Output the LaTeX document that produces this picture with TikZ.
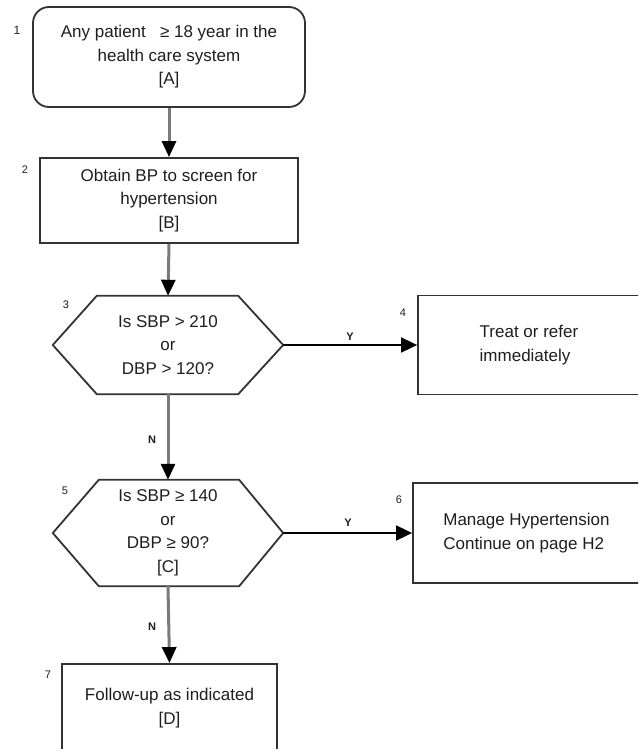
\documentclass[tikz,border=0pt]{standalone}
\usepackage{fontspec}
\setmainfont{Liberation Sans}
\usetikzlibrary{arrows.meta}
\definecolor{txt}{HTML}{1E1E1E}
\definecolor{edge}{HTML}{333333}
\definecolor{vline}{HTML}{7A7A7A}
\begin{document}
\begin{tikzpicture}[x=1pt,y=-1pt,
  box/.style={draw=edge,line width=1.8pt,inner sep=0pt,align=center,text=txt,
    font=\fontsize{17}{23.5}\selectfont},
  hexbox/.style={inner sep=0pt,align=center,text=txt,
    font=\fontsize{17}{23.5}\selectfont},
  hexline/.style={draw=edge,line width=1.8pt,line join=miter},
  num/.style={inner sep=0pt,text=txt,font=\fontsize{11}{13}\selectfont},
  yn/.style={inner sep=0pt,text=txt,font=\bfseries\fontsize{11}{13}\selectfont},
  down/.style={draw=vline,line width=3pt,-{Triangle[length=16pt,width=14pt,color=black]}},
  side/.style={draw=black,line width=1.8pt,-{Triangle[length=16pt,width=15pt,color=black]}}
]
\useasboundingbox (0,0) rectangle (638,749);
\clip (0,0) rectangle (638,749);

% node 1
\node[box,rounded corners=16pt,minimum width=272pt,minimum height=100pt] (n1) at (169,57)
  {Any patient \ \ ≥ 18 year in the\\health care system\\{[A]}};
% node 2
\node[box,minimum width=258pt,minimum height=85pt] (n2) at (169,200.5)
  {Obtain BP to screen for\\hypertension\\{[B]}};
% node 3 (hexagon)
\node[hexbox,minimum width=230pt,minimum height=98pt] (n3) at (168,345)
  {Is SBP > 210\\or\\DBP > 120?};
\draw[hexline] (n3.west) -- ([xshift=44pt]n3.north west) -- ([xshift=-45pt]n3.north east)
  -- (n3.east) -- ([xshift=-45pt]n3.south east) -- ([xshift=44pt]n3.south west) -- cycle;
% node 4
\node[box,align=left,minimum width=222pt,minimum height=99pt] (n4) at (529,345)
  {Treat or refer\\immediately};
% node 5 (hexagon)
\node[hexbox,minimum width=230pt,minimum height=106pt] (n5) at (168,533)
  {Is SBP ≥ 140\\or\\DBP ≥ 90?\\{[C]}};
\draw[hexline] (n5.west) -- ([xshift=46pt]n5.north west) -- ([xshift=-44pt]n5.north east)
  -- (n5.east) -- ([xshift=-44pt]n5.south east) -- ([xshift=46pt]n5.south west) -- cycle;
% node 6
\node[box,align=left,minimum width=227pt,minimum height=100pt] (n6) at (526.5,533)
  {Manage Hypertension\\Continue on page H2};
% node 7
\node[box,minimum width=215pt,minimum height=88pt] (n7) at (169.5,708)
  {Follow-up as indicated\\{[D]}};

% step numbers
\node[num,font=\fontsize{12}{14}\selectfont] (l1) at (17,30) {1};
\node[num] (l2) at (25,170) {2};
\node[num] (l3) at (66,305) {3};
\node[num] (l4) at (403,313) {4};
\node[num] (l5) at (65,491) {5};
\node[num] (l6) at (399,500) {6};
\node[num] (l7) at (48,675) {7};

% connectors
\draw[down] (n1.south) -- (n2.north);
\draw[down] (n2.south) -- (n3.north);
\draw[side] (n3.east) -- (n4.west);
\draw[down] (n3.south) -- (n5.north);
\draw[side] (n5.east) -- (n6.west);
\draw[down] (n5.south) -- (n7.north);

% branch labels
\node[yn] (y3) at (350,337) {Y};
\node[yn] (nn3) at (152,440) {N};
\node[yn] (y5) at (348,523) {Y};
\node[yn] (nn5) at (152,627) {N};
\end{tikzpicture}
\end{document}
